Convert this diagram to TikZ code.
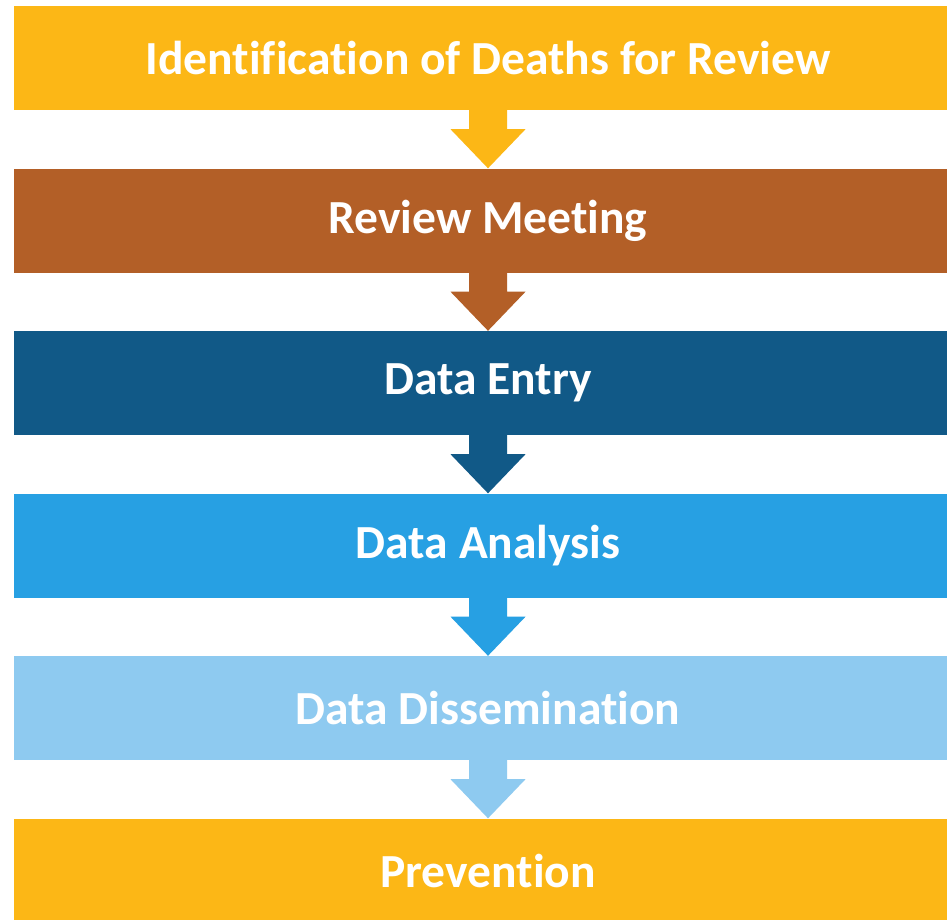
\documentclass[tikz,border=0pt]{standalone}
\usepackage{fontspec}
\setmainfont{Carlito}[Ligatures={NoCommon}]
\usetikzlibrary{calc}
\definecolor{cyel}{HTML}{FCB716}
\definecolor{cbrn}{HTML}{B35F27}
\definecolor{cdbl}{HTML}{115987}
\definecolor{cmbl}{HTML}{27A0E3}
\definecolor{clbl}{HTML}{8ECAF0}
\tikzset{
  stage/.style={rectangle, minimum width=948pt, minimum height=104pt, inner sep=0pt,
    text=white, font=\fontsize{47.5}{54}\selectfont\bfseries}
}
\newcommand{\flowarr}[3]{%
  \fill[#3] ($(#1.south)+(-19pt,0.5pt)$) -- ($(#1.south)+(-19pt,-19pt)$)
    -- ($(#1.south)+(-37.5pt,-19pt)$) -- ($(#2.north)$)
    -- ($(#1.south)+(37.5pt,-19pt)$) -- ($(#1.south)+(19pt,-19pt)$)
    -- ($(#1.south)+(19pt,0.5pt)$) -- cycle;}
\begin{document}
\begin{tikzpicture}[x=1pt,y=1pt]
\clip (0,0) rectangle (947,-919);
\fill[white] (0,0) rectangle (947,-919);
\node[stage, fill=cyel] (b1) at (488,-58) {Identification of Deaths for Review};
\node[stage, fill=cbrn] (b2) at (488,-220.5) {Review Meeting};
\node[stage, fill=cdbl] (b3) at (488,-383) {Data Entry};
\node[stage, fill=cmbl] (b4) at (488,-545.5) {Data Analysis};
\node[stage, fill=clbl] (b5) at (488,-708) {Data Dissemination};
\node[stage, fill=cyel] (b6) at (488,-870.5) {Prevention};
\flowarr{b1}{b2}{cyel}
\flowarr{b2}{b3}{cbrn}
\flowarr{b3}{b4}{cdbl}
\flowarr{b4}{b5}{cmbl}
\flowarr{b5}{b6}{clbl}
\end{tikzpicture}
\end{document}
